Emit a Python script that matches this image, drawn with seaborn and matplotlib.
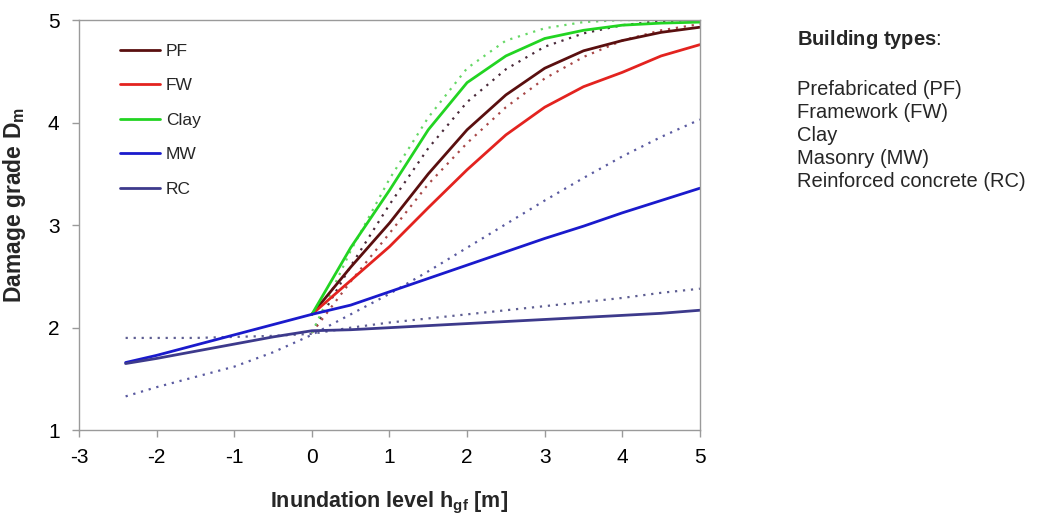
import numpy as np
import matplotlib
matplotlib.use("Agg")
import matplotlib.pyplot as plt
import seaborn as sns
import pandas as pd

# inundation levels (m)
h_up = [0, 0.5, 1, 1.5, 2, 2.5, 3, 3.5, 4, 4.5, 5]
h_all = [-2.4, -2, -1.5, -1, -0.5, 0, 0.5, 1, 1.5, 2, 2.5, 3, 3.5, 4, 4.5, 5]

# solid curves (observed / simulated mean damage grade)
pf_obs = [2.13, 2.59, 3.02, 3.50, 3.93, 4.27, 4.53, 4.70, 4.80, 4.88, 4.93]
fw_obs = [2.13, 2.46, 2.79, 3.17, 3.54, 3.88, 4.15, 4.35, 4.49, 4.65, 4.76]
clay_obs = [2.13, 2.78, 3.34, 3.93, 4.39, 4.65, 4.82, 4.90, 4.95, 4.97, 4.98]
mw_obs = [1.66, 1.73, 1.83, 1.93, 2.03, 2.13, 2.22, 2.35, 2.48, 2.61, 2.74, 2.87, 2.99, 3.12, 3.24, 3.36]
rc_obs = [1.65, 1.70, 1.77, 1.84, 1.91, 1.97, 1.98, 2.00, 2.02, 2.04, 2.06, 2.08, 2.10, 2.12, 2.14, 2.17]

# dotted curves (fitted functions)
pf_fit = [1.95, 2.60, 3.20, 3.75, 4.20, 4.52, 4.74, 4.87, 4.95, 4.99, 5.00]
fw_fit = [1.95, 2.45, 2.92, 3.40, 3.80, 4.15, 4.43, 4.64, 4.80, 4.90, 4.96]
clay_fit = [1.95, 2.75, 3.45, 4.05, 4.53, 4.80, 4.92, 4.98, 5.00, 5.00, 5.00]
mw_fit = [1.33, 1.42, 1.52, 1.62, 1.76, 1.93, 2.13, 2.33, 2.55, 2.78, 3.01, 3.24, 3.46, 3.67, 3.86, 4.03]
rc_fit = [1.90, 1.90, 1.90, 1.91, 1.92, 1.94, 2.00, 2.05, 2.09, 2.13, 2.17, 2.21, 2.25, 2.29, 2.34, 2.38]

labels = ["PF", "FW", "Clay", "MW", "RC"]
colors = ["#5a0f0f", "#e3231f", "#22d422", "#1a1acc", "#3d3a8c"]
fit_colors = ["#4a2a3a", "#a84848", "#66d866", "#5a5aa0", "#5e5e92"]

building_types = ["Prefabricated (PF)", "Framework (FW)", "Clay", "Masonry (MW)",
                  "Reinforced concrete (RC)"]

sns.set_style("ticks")
plt.rcParams['font.family'] = ['Liberation Sans', 'DejaVu Sans']
plt.rcParams['axes.unicode_minus'] = False
plt.rcParams['mathtext.fontset'] = 'custom'
plt.rcParams['mathtext.rm'] = 'Liberation Sans'
plt.rcParams['mathtext.bf'] = 'Liberation Sans:bold'
plt.rcParams['mathtext.it'] = 'Liberation Sans:italic'

fig = plt.figure(figsize=(10.4, 5.14), dpi=100)
ax = fig.add_axes([0.076, 0.163, 0.597, 0.798])

obs = [(h_up, pf_obs), (h_up, fw_obs), (h_up, clay_obs), (h_all, mw_obs), (h_all, rc_obs)]
fit = [(h_up, pf_fit), (h_up, fw_fit), (h_up, clay_fit), (h_all, mw_fit), (h_all, rc_fit)]

for i in range(len(labels)):
	df = pd.DataFrame({"h": fit[i][0], "D": fit[i][1]})
	sns.lineplot(data=df, x="h", y="D", ax=ax, color=fit_colors[i], lw=1.6,
		linestyle=(0, (1, 2.6)), legend=False)

for i in range(len(labels)):
	df = pd.DataFrame({"h": obs[i][0], "D": obs[i][1]})
	sns.lineplot(data=df, x="h", y="D", ax=ax, color=colors[i], lw=2, label=labels[i])

ax.set_xlim(-3, 5)
ax.set_ylim(1, 5)
ax.set_xticks(range(-3, 6))
ax.set_yticks(range(1, 6))
for s in ax.spines.values():
	s.set_color("#9a9a9a")
	s.set_linewidth(1)
ax.tick_params(axis='both', direction='out', length=5, width=1, color="#9a9a9a",
	labelsize=15, labelcolor="black")
ax.tick_params(axis='x', pad=8)
ax.tick_params(axis='y', pad=9)

ax.set_xlabel(r"Inundation level h$_\mathbf{gf}$ [m]", fontsize=15.5, fontweight='bold')
ax.set_ylabel(r"Damage grade D$_\mathbf{m}$", fontsize=16.5, fontweight='bold')
ax.xaxis.set_label_coords(0.5, -0.145)
ax.yaxis.set_label_coords(-0.082, 0.55)

leg = ax.legend(loc='upper left', bbox_to_anchor=(0.066, 0.943), frameon=False,
	fontsize=12.5, handlelength=2.3, handletextpad=0.35, labelspacing=1.12,
	borderpad=0, borderaxespad=0)

fig.text(0.766, 1 - 45/514, r"$\mathbf{Building\ types}$:", fontsize=14.5, va='baseline')
for k, name in enumerate(building_types):
	fig.text(0.766, 1 - (95 + 23*k)/514, name, fontsize=14.5, va='baseline')

plt.savefig("out.png", dpi=100)
